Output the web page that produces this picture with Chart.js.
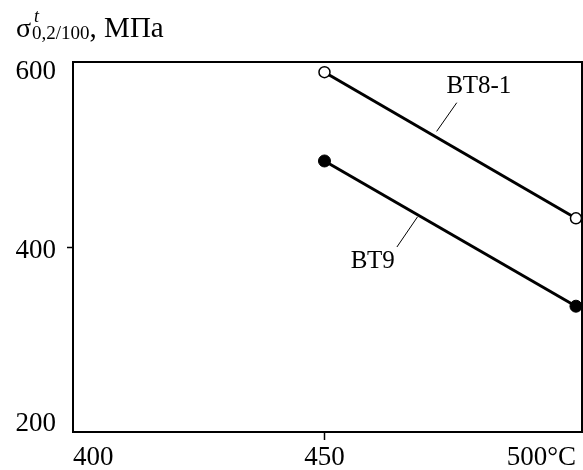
<!DOCTYPE html>
<html>
<head>
<meta charset="utf-8">
<script src="https://cdn.jsdelivr.net/npm/chart.js@4"></script>
<style>
  html, body { margin: 0; padding: 0; background: #fff; }
  #wrap { width: 583px; height: 470px; }
</style>
</head>
<body>
<div id="wrap"><canvas id="chart" width="583" height="470"></canvas></div>
<script>
// temperatures (°C) and yield strength (MPa)
const temps = [450, 500];
const vt81 = [589, 431];
const vt9 = [493, 336];
const seriesNames = ['ВТ8-1', 'ВТ9'];

const xTicks = [400, 450, 500];
const xTickLabels = ['400', '450', '500°C'];
const yTicks = [200, 400, 600];
const yTickLabels = ['200', '400', '600'];

// where the series names and their leader lines sit, in data units
const vt81Label = [480.7, 574];
const vt81Leader = [[472.3, 525], [476.3, 556]];
const vt9Label = [459.6, 384];
const vt9Leader = [[468.5, 432.6], [464.4, 400]];

const serif = 'Liberation Serif';
// the y labels in the original are nudged inward from their ticks (px)
const yLabelNudge = [-8.5, 3.5, 9.5];

const toPoints = (ys) => temps.map((t, i) => ({ x: t, y: ys[i] }));

// frame around the plot, the y labels, the title and the series labels
const extras = {
  id: 'extras',
  afterDraw(chart) {
    const { ctx, chartArea: a, scales: { x, y } } = chart;
    ctx.save();

    ctx.strokeStyle = '#000';
    ctx.lineWidth = 2;
    ctx.strokeRect(a.left, a.top, a.right - a.left, a.bottom - a.top);

    ctx.fillStyle = '#000';
    ctx.font = `27px "${serif}"`;
    ctx.textAlign = 'right';
    ctx.textBaseline = 'middle';
    yTicks.forEach((v, i) => {
      ctx.fillText(yTickLabels[i], 56, y.getPixelForValue(v) + yLabelNudge[i]);
    });

    // leader lines + names
    const labels = [
      [seriesNames[0], vt81Label, vt81Leader],
      [seriesNames[1], vt9Label, vt9Leader]
    ];
    labels.forEach(([name, pos, leader]) => {
      ctx.lineWidth = 1;
      ctx.beginPath();
      ctx.moveTo(x.getPixelForValue(leader[0][0]), y.getPixelForValue(leader[0][1]));
      ctx.lineTo(x.getPixelForValue(leader[1][0]), y.getPixelForValue(leader[1][1]));
      ctx.stroke();

      ctx.font = `25px "${serif}"`;
      ctx.textAlign = 'center';
      ctx.textBaseline = 'middle';
      ctx.fillText(name, x.getPixelForValue(pos[0]), y.getPixelForValue(pos[1]));
    });

    // axis title: σ^t_{0,2/100}, МПа
    ctx.textAlign = 'left';
    ctx.textBaseline = 'alphabetic';
    let cx = 16;
    const base = 37;
    ctx.font = `28px "${serif}"`;
    ctx.fillText('σ', cx, base);
    cx += ctx.measureText('σ').width + 1;
    ctx.font = `italic 18px "${serif}"`;
    ctx.fillText('t', cx + 2, base - 15);
    ctx.font = `19px "${serif}"`;
    ctx.fillText('0,2/100', cx, base + 2);
    cx += ctx.measureText('0,2/100').width;
    ctx.font = `29px "${serif}"`;
    ctx.fillText(', МПа', cx, base);

    ctx.restore();
  }
};

new Chart(document.querySelector('#chart'), {
  type: 'line',
  data: {
    datasets: [
      {
        label: seriesNames[0],
        data: toPoints(vt81),
        borderColor: '#000',
        borderWidth: 3,
        pointRadius: 5.5,
        pointBackgroundColor: '#fff',
        pointBorderColor: '#000',
        pointBorderWidth: 1.5,
        clip: false
      },
      {
        label: seriesNames[1],
        data: toPoints(vt9),
        borderColor: '#000',
        borderWidth: 3,
        pointRadius: 6,
        pointBackgroundColor: '#000',
        pointBorderColor: '#000',
        pointBorderWidth: 1,
        clip: false
      }
    ]
  },
  options: {
    responsive: false,
    animation: false,
    events: [],
    layout: { autoPadding: false, padding: { top: 62, right: 1, left: 0, bottom: 0 } },
    plugins: {
      legend: { display: false },
      tooltip: { enabled: false }
    },
    scales: {
      x: {
        type: 'linear',
        min: 400,
        max: 501.2,
        afterBuildTicks: (scale) => { scale.ticks = xTicks.map(v => ({ value: v })); },
        afterFit: (scale) => {
          scale.height = 38;
          scale.paddingLeft = 0;
          scale.paddingRight = 0;
        },
        border: { display: false },
        grid: {
          drawOnChartArea: false,
          tickLength: 8,
          tickWidth: 1.5,
          tickColor: (c) => c.tick && c.tick.value === 450 ? '#000' : 'rgba(0,0,0,0)'
        },
        ticks: {
          align: 'inner',
          maxRotation: 0,
          padding: 2,
          color: '#000',
          font: { family: serif, size: 27 },
          callback: (v) => xTickLabels[xTicks.indexOf(v)]
        }
      },
      y: {
        min: 200,
        max: 600,
        afterBuildTicks: (scale) => { scale.ticks = yTicks.map(v => ({ value: v })); },
        afterFit: (scale) => {
          scale.width = 73;
          scale.paddingTop = 0;
          scale.paddingBottom = 0;
        },
        border: { display: false },
        grid: {
          drawOnChartArea: false,
          tickLength: 6,
          tickWidth: 1.5,
          tickColor: (c) => c.tick && c.tick.value === 400 ? '#000' : 'rgba(0,0,0,0)'
        },
        ticks: { display: false }
      }
    }
  },
  plugins: [extras]
});
</script>
</body>
</html>
